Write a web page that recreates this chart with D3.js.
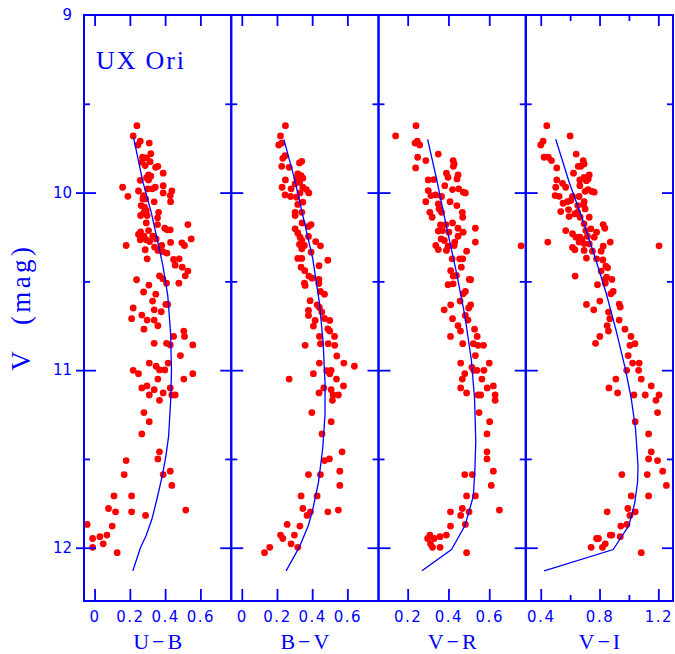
<!DOCTYPE html>
<html>
<head>
<meta charset="utf-8">
<script src="https://cdn.jsdelivr.net/npm/d3@7"></script>
<style>
  body { margin: 0; background: #fff; }
</style>
</head>
<body>
<svg width="675" height="654"></svg>
<script>
// colour index panels, all against V
let panelNames = ['U−B', 'B−V', 'V−R', 'V−I']
let panelDomains = [[-0.06, 0.775], [-0.06, 0.777], [0.057, 0.779], [0.298, 1.3]]
let colorMajor = [[0, 0.2, 0.4, 0.6], [0, 0.2, 0.4, 0.6], [0.2, 0.4, 0.6], [0.4, 0.8, 1.2]]
let colorMinor = [[], [], [], [0.6, 1.0]]
let vDomain = [9, 12.3]
let vLabels = [9, 10, 11, 12]
let vMajor = [10, 11, 12]
let vMinor = [9.5, 10.5, 11.5]
let starName = 'UX Ori'

// [colour, V]
let ubStars = [[0.240,9.623],[0.219,9.681],[0.259,9.711],[0.310,9.721],[0.246,9.732],[0.319,9.781],[0.272,9.801],[0.295,9.805],[0.268,9.829],[0.315,9.826],
  [0.287,9.848],[0.346,9.858],[0.359,9.852],[0.389,9.891],[0.306,9.901],[0.319,9.908],[0.295,9.916],[0.306,9.929],[0.259,9.931],[0.344,9.970],
  [0.327,9.979],[0.302,9.979],[0.159,9.970],[0.249,9.991],[0.389,9.961],[0.438,9.991],[0.389,10.002],[0.429,10.017],[0.189,10.021],[0.278,10.017],
  [0.274,10.036],[0.289,10.036],[0.338,10.052],[0.431,10.051],[0.264,10.073],[0.283,10.082],[0.293,10.101],[0.280,10.111],[0.363,10.111],[0.261,10.129],
  [0.298,10.129],[0.357,10.142],[0.293,10.171],[0.357,10.180],[0.529,10.180],[0.398,10.201],[0.429,10.210],[0.412,10.210],[0.261,10.221],[0.306,10.214],
  [0.249,10.236],[0.280,10.246],[0.330,10.246],[0.349,10.261],[0.548,10.261],[0.259,10.266],[0.293,10.266],[0.312,10.276],[0.431,10.281],[0.495,10.283],
  [0.510,10.298],[0.179,10.298],[0.381,10.298],[0.340,10.307],[0.287,10.322],[0.359,10.326],[0.387,10.332],[0.410,10.341],[0.298,10.373],[0.480,10.373],
  [0.448,10.377],[0.457,10.409],[0.497,10.420],[0.529,10.442],[0.514,10.469],[0.368,10.469],[0.387,10.485],[0.408,10.510],[0.478,10.510],[0.238,10.491],
  [0.308,10.521],[0.278,10.560],[0.347,10.572],[0.329,10.611],[0.415,10.630],[0.404,10.630],[0.219,10.650],[0.338,10.660],[0.378,10.671],[0.210,10.710],
  [0.268,10.690],[0.298,10.718],[0.338,10.718],[0.359,10.750],[0.280,10.769],[0.506,10.780],[0.448,10.810],[0.510,10.810],[0.338,10.849],[0.408,10.849],
  [0.429,10.858],[0.557,10.858],[0.487,10.918],[0.310,10.960],[0.417,10.960],[0.349,10.978],[0.398,10.999],[0.219,11.001],[0.249,11.020],[0.368,10.999],
  [0.557,11.020],[0.359,11.050],[0.506,11.050],[0.297,11.089],[0.268,11.100],[0.429,11.100],[0.338,11.110],[0.310,11.140],[0.389,11.128],[0.438,11.140],
  [0.457,11.140],[0.368,11.170],[0.280,11.239],[0.310,11.290],[0.268,11.359],[0.368,11.460],[0.359,11.500],[0.179,11.509],[0.429,11.569],[0.389,11.588],
  [0.168,11.588],[0.438,11.649],[0.110,11.708],[0.210,11.708],[0.079,11.779],[0.119,11.798],[0.210,11.798],[0.517,11.788],[0.289,11.818],[-0.042,11.869],
  [0.100,11.878],[0.070,11.929],[0.030,11.938],[-0.011,11.948],[0.049,11.978],[-0.011,11.998],[0.128,12.028]]

let bvStars = [[0.248,9.623],[0.220,9.681],[0.210,9.732],[0.227,9.721],[0.246,9.792],[0.233,9.807],[0.341,9.824],[0.328,9.833],[0.227,9.852],[0.269,9.858],
  [0.318,9.895],[0.337,9.904],[0.313,9.919],[0.347,9.919],[0.248,9.929],[0.328,9.942],[0.303,9.951],[0.229,9.970],[0.280,9.979],[0.347,9.970],
  [0.367,9.983],[0.381,10.002],[0.331,10.002],[0.246,10.013],[0.311,10.026],[0.277,10.022],[0.347,10.054],[0.318,10.067],[0.303,10.111],[0.341,10.111],
  [0.303,10.129],[0.343,10.171],[0.394,10.180],[0.379,10.191],[0.303,10.204],[0.318,10.227],[0.331,10.251],[0.379,10.247],[0.341,10.270],[0.420,10.276],
  [0.328,10.292],[0.356,10.298],[0.447,10.300],[0.394,10.336],[0.341,10.317],[0.489,10.381],[0.318,10.371],[0.341,10.371],[0.439,10.412],[0.337,10.420],
  [0.358,10.440],[0.400,10.482],[0.381,10.470],[0.438,10.489],[0.438,10.512],[0.360,10.523],[0.356,10.510],[0.447,10.557],[0.470,10.572],[0.388,10.609],
  [0.428,10.632],[0.441,10.647],[0.455,10.673],[0.379,10.664],[0.379,10.692],[0.470,10.709],[0.500,10.720],[0.417,10.720],[0.407,10.752],[0.489,10.767],
  [0.500,10.780],[0.527,10.810],[0.441,10.810],[0.360,10.860],[0.447,10.851],[0.491,10.851],[0.528,10.860],[0.540,10.920],[0.441,10.960],[0.580,10.960],
  [0.640,10.978],[0.407,11.020],[0.483,11.003],[0.508,11.001],[0.500,11.020],[0.269,11.050],[0.538,11.050],[0.466,11.100],[0.508,11.110],[0.439,11.128],
  [0.578,11.089],[0.519,11.140],[0.549,11.140],[0.515,11.170],[0.398,11.239],[0.508,11.290],[0.456,11.359],[0.570,11.460],[0.498,11.500],[0.470,11.509],
  [0.379,11.588],[0.447,11.588],[0.557,11.569],[0.557,11.649],[0.337,11.708],[0.428,11.708],[0.347,11.779],[0.390,11.798],[0.371,11.818],[0.489,11.798],
  [0.549,11.788],[0.258,11.869],[0.330,11.878],[0.220,11.929],[0.233,11.948],[0.299,11.929],[0.280,11.978],[0.318,11.998],[0.159,11.998],[0.129,12.028]]

let vrStars = [[0.241,9.623],[0.141,9.681],[0.247,9.711],[0.236,9.721],[0.259,9.732],[0.350,9.783],[0.249,9.801],[0.289,9.820],[0.239,9.861],[0.423,9.820],
  [0.428,9.839],[0.424,9.852],[0.390,9.891],[0.398,9.914],[0.447,9.901],[0.442,9.923],[0.301,9.929],[0.328,9.927],[0.382,9.961],[0.420,9.983],
  [0.450,9.979],[0.301,9.989],[0.314,10.017],[0.337,10.013],[0.366,10.022],[0.473,9.998],[0.483,10.002],[0.289,10.051],[0.408,10.051],[0.350,10.064],
  [0.441,10.073],[0.354,10.092],[0.309,10.111],[0.366,10.111],[0.468,10.111],[0.320,10.139],[0.470,10.139],[0.420,10.171],[0.387,10.180],[0.361,10.182],
  [0.350,10.217],[0.371,10.214],[0.447,10.201],[0.532,10.201],[0.402,10.223],[0.472,10.223],[0.447,10.246],[0.364,10.261],[0.380,10.270],[0.431,10.279],
  [0.532,10.279],[0.338,10.298],[0.398,10.302],[0.428,10.298],[0.350,10.321],[0.390,10.326],[0.489,10.330],[0.418,10.373],[0.455,10.373],[0.470,10.373],
  [0.463,10.420],[0.411,10.440],[0.439,10.467],[0.423,10.470],[0.502,10.489],[0.509,10.491],[0.398,10.519],[0.423,10.514],[0.483,10.557],[0.472,10.570],
  [0.457,10.611],[0.411,10.632],[0.509,10.632],[0.499,10.650],[0.379,10.660],[0.483,10.692],[0.420,10.710],[0.496,10.718],[0.447,10.750],[0.528,10.769],
  [0.459,10.780],[0.541,10.810],[0.410,10.810],[0.470,10.851],[0.522,10.851],[0.545,10.860],[0.572,10.860],[0.532,10.918],[0.460,10.960],[0.600,10.960],
  [0.515,10.984],[0.524,11.001],[0.540,11.001],[0.480,11.020],[0.574,11.001],[0.564,11.050],[0.468,11.050],[0.620,11.089],[0.460,11.100],[0.590,11.100],
  [0.489,11.128],[0.545,11.140],[0.558,11.140],[0.629,11.140],[0.629,11.170],[0.550,11.239],[0.602,11.290],[0.589,11.359],[0.589,11.460],[0.589,11.500],
  [0.620,11.569],[0.480,11.588],[0.517,11.588],[0.610,11.649],[0.489,11.708],[0.532,11.708],[0.650,11.788],[0.410,11.798],[0.460,11.818],[0.501,11.798],
  [0.468,11.779],[0.483,11.869],[0.410,11.878],[0.390,11.929],[0.309,11.929],[0.298,11.948],[0.330,11.948],[0.359,11.938],[0.312,11.978],[0.322,11.998],
  [0.359,11.998],[0.489,12.028],[0.756,10.300]]

let viStars = [[0.441,9.623],[0.600,9.681],[0.416,9.711],[0.400,9.732],[0.641,9.783],[0.423,9.801],[0.452,9.801],[0.473,9.820],[0.689,9.820],[0.695,9.839],
  [0.655,9.852],[0.673,9.852],[0.509,9.861],[0.623,9.891],[0.730,9.901],[0.695,9.914],[0.723,9.923],[0.509,9.929],[0.666,9.929],[0.548,9.948],
  [0.711,9.933],[0.570,9.970],[0.666,9.961],[0.502,9.970],[0.764,9.998],[0.748,9.994],[0.723,9.983],[0.702,9.993],[0.498,10.017],[0.525,10.021],
  [0.616,10.022],[0.661,10.022],[0.552,10.060],[0.582,10.051],[0.605,10.045],[0.695,10.051],[0.691,10.069],[0.652,10.073],[0.589,10.096],[0.536,10.107],
  [0.650,10.111],[0.702,10.092],[0.593,10.135],[0.632,10.120],[0.668,10.139],[0.730,10.139],[0.695,10.176],[0.825,10.180],[0.570,10.214],[0.707,10.214],
  [0.741,10.204],[0.780,10.223],[0.836,10.201],[0.616,10.232],[0.639,10.251],[0.666,10.251],[0.680,10.264],[0.718,10.246],[0.764,10.251],[0.448,10.279],
  [0.873,10.279],[0.661,10.279],[0.695,10.287],[0.730,10.289],[0.825,10.302],[0.616,10.309],[0.632,10.322],[0.695,10.326],[0.752,10.330],[0.811,10.330],
  [0.711,10.369],[0.780,10.373],[0.823,10.379],[0.843,10.414],[0.855,10.424],[0.811,10.442],[0.848,10.476],[0.839,10.487],[0.884,10.489],[0.634,10.470],
  [0.839,10.510],[0.786,10.519],[0.893,10.557],[0.877,10.570],[0.802,10.611],[0.711,10.630],[0.761,10.660],[0.861,10.673],[0.934,10.628],[0.941,10.645],
  [0.870,10.710],[0.934,10.718],[0.852,10.750],[0.861,10.780],[0.973,10.769],[0.802,10.810],[1.014,10.810],[0.773,10.849],[1.007,10.860],[1.041,10.851],
  [0.995,10.918],[1.025,10.960],[1.070,10.960],[0.985,11.001],[1.066,11.001],[0.911,11.050],[1.084,11.050],[0.864,11.100],[1.152,11.089],[0.923,11.128],
  [1.111,11.140],[1.034,11.140],[1.205,11.140],[1.184,11.170],[1.195,11.239],[1.043,11.290],[1.134,11.359],[1.152,11.460],[1.134,11.500],[1.195,11.509],
  [1.230,11.569],[0.952,11.588],[1.125,11.588],[1.255,11.649],[1.016,11.708],[1.134,11.708],[0.852,11.798],[0.993,11.779],[1.043,11.798],[1.007,11.818],
  [0.945,11.878],[0.986,11.869],[0.873,11.929],[0.884,11.929],[0.780,11.948],[0.793,11.948],[0.941,11.938],[0.839,11.978],[0.743,11.998],[0.820,11.998],
  [1.084,12.028],[1.205,10.300]]

// fitted sequence in each panel
let ubFit = [[0.221,9.69],[0.274,9.94],[0.321,10.11],[0.359,10.28],[0.387,10.41],[0.415,10.58],[0.431,10.79],[0.436,11.0],[0.432,11.16],
  [0.420,11.37],[0.405,11.48],[0.385,11.59],[0.355,11.72],[0.325,11.84],[0.293,11.93],[0.26,12.0],[0.217,12.13]]
let bvFit = [[0.239,9.70],[0.299,9.92],[0.347,10.13],[0.403,10.37],[0.441,10.62],[0.462,10.84],[0.473,11.07],[0.473,11.25],[0.460,11.44],
  [0.436,11.63],[0.400,11.80],[0.378,11.875],[0.330,11.99],[0.252,12.13]]
let vrFit = [[0.298,9.70],[0.341,9.92],[0.390,10.19],[0.439,10.45],[0.480,10.69],[0.512,10.94],[0.528,11.16],[0.534,11.40],[0.530,11.55],
  [0.522,11.71],[0.481,11.875],[0.415,12.01],[0.270,12.13]]
let viFit = [[0.502,9.70],[0.593,9.94],[0.684,10.15],[0.764,10.35],[0.843,10.56],[0.911,10.77],[0.975,10.99],[1.016,11.16],[1.045,11.33],
  [1.062,11.54],[1.059,11.63],[1.039,11.75],[1.000,11.875],[0.893,12.01],[0.423,12.13]]

let stars = [ubStars, bvStars, vrStars, viStars]
let fits = [ubFit, bvFit, vrFit, viFit]

var blue = '#0000ff'
var red = '#ff0000'
var svg = d3.select('svg')

let frameLeft = 84, frameRight = 673, frameTop = 15, frameBottom = 601
let panelW = (frameRight - frameLeft) / 4

let y = d3.scaleLinear().domain(vDomain).range([frameTop, frameBottom])

let fmt = (d) => d === 0 ? '0' : d3.format('.1f')(d)

let styleAxis = (g) => {
  g.select('.domain').remove()
  g.selectAll('line').attr('stroke', blue).attr('stroke-width', 1.8)
  g.selectAll('text').attr('fill', blue)
  g.attr('font-family', null).attr('font-size', null)
}

let drawPanel = (i) => {
  let x0 = frameLeft + i * panelW
  let x = d3.scaleLinear().domain(panelDomains[i]).range([x0, x0 + panelW])
  let g = svg.append('g').attr('class', 'panel')

  g.append('g')
    .selectAll('circle')
    .data(stars[i])
    .enter()
    .append('circle')
    .attr('cx', (d) => x(d[0]))
    .attr('cy', (d) => y(d[1]))
    .attr('r', 3.4)
    .attr('fill', red)

  let line = d3.line().x((d) => x(d[0])).y((d) => y(d[1]))
  g.append('path')
    .attr('d', line(fits[i]))
    .attr('fill', 'none')
    .attr('stroke', blue)
    .attr('stroke-width', 1.3)

  // ticks along bottom and top, pointing inwards
  g.append('g').attr('transform', `translate(0,${frameBottom})`)
    .call(d3.axisBottom(x).tickValues(colorMajor[i]).tickSize(-12).tickPadding(10).tickFormat(fmt))
    .call(styleAxis)
    .selectAll('text')
    .style('font', '15px "DejaVu Sans"')
    .attr('letter-spacing', 1.5)
  g.append('g').attr('transform', `translate(0,${frameBottom})`)
    .call(d3.axisBottom(x).tickValues(colorMinor[i]).tickSize(-6).tickFormat(''))
    .call(styleAxis)
  g.append('g').attr('transform', `translate(0,${frameTop})`)
    .call(d3.axisTop(x).tickValues(colorMajor[i]).tickSize(-11).tickFormat(''))
    .call(styleAxis)
  g.append('g').attr('transform', `translate(0,${frameTop})`)
    .call(d3.axisTop(x).tickValues(colorMinor[i]).tickSize(-6).tickFormat(''))
    .call(styleAxis)

  // V ticks on both sides of the panel
  g.append('g').attr('transform', `translate(${x0},0)`)
    .call(d3.axisLeft(y).tickValues(vMajor).tickSize(-12).tickFormat(''))
    .call(styleAxis)
  g.append('g').attr('transform', `translate(${x0},0)`)
    .call(d3.axisLeft(y).tickValues(vMinor).tickSize(-6).tickFormat(''))
    .call(styleAxis)
  g.append('g').attr('transform', `translate(${x0 + panelW},0)`)
    .call(d3.axisRight(y).tickValues(vMajor).tickSize(-11).tickFormat(''))
    .call(styleAxis)
  g.append('g').attr('transform', `translate(${x0 + panelW},0)`)
    .call(d3.axisRight(y).tickValues(vMinor).tickSize(-6).tickFormat(''))
    .call(styleAxis)

  g.append('rect')
    .attr('x', x0).attr('y', frameTop)
    .attr('width', panelW).attr('height', frameBottom - frameTop)
    .attr('fill', 'none')
    .attr('stroke', blue)
    .attr('stroke-width', 2)

  g.append('text')
    .attr('x', x0 + panelW / 2 + 1.5)
    .attr('y', 649)
    .attr('text-anchor', 'middle')
    .attr('fill', blue)
    .attr('letter-spacing', 3)
    .style('font', '22px "Liberation Serif"')
    .text(panelNames[i])
}

panelNames.forEach((name, i) => drawPanel(i))

// outer V axis with labels
svg.append('g').attr('transform', `translate(${frameLeft},0)`)
  .call(d3.axisLeft(y).tickValues(vMajor).tickSize(8).tickFormat(''))
  .call(styleAxis)
svg.append('g').attr('transform', `translate(${frameLeft},0)`)
  .call(d3.axisLeft(y).tickValues(vLabels).tickSize(0).tickPadding(12).tickFormat((d) => d))
  .call(styleAxis)
  .selectAll('text')
  .style('font', '15px "DejaVu Sans"')

svg.append('text')
  .attr('transform', 'translate(30,361) rotate(-90)')
  .attr('text-anchor', 'middle')
  .attr('fill', blue)
  .style('font', '27px "Liberation Serif"')
  .text('V')
svg.append('text')
  .attr('transform', 'translate(30,286) rotate(-90)')
  .attr('text-anchor', 'middle')
  .attr('fill', blue)
  .attr('textLength', 78)
  .attr('lengthAdjust', 'spacing')
  .style('font', '27px "Liberation Serif"')
  .text('(mag)')

svg.append('text')
  .attr('x', 96)
  .attr('y', 69)
  .attr('fill', blue)
  .attr('textLength', 88)
  .attr('lengthAdjust', 'spacing')
  .style('font', '26px "Liberation Serif"')
  .text(starName)
</script>
</body>
</html>
